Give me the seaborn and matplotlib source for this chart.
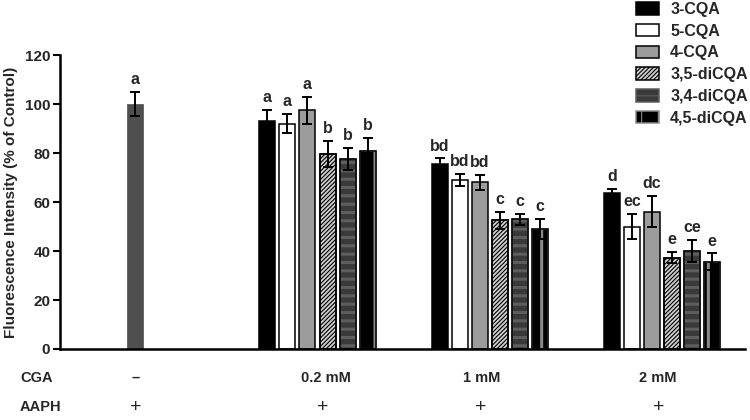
import matplotlib
matplotlib.use("Agg")
import matplotlib.pyplot as plt
import matplotlib.transforms as mtransforms
from matplotlib.patches import Rectangle
import numpy as np
import pandas as pd
import seaborn as sns

# ---------------- data ----------------
compounds = ["3-CQA", "5-CQA", "4-CQA", "3,5-diCQA", "3,4-diCQA", "4,5-diCQA"]
concentrations = ["0.2 mM", "1 mM", "2 mM"]

control_value = [100.0]
control_err = [5.0]
control_letter = ["a"]

mean_3CQA = [93.0, 75.5, 63.5]
mean_5CQA = [92.0, 69.0, 50.0]
mean_4CQA = [97.5, 68.0, 56.0]
mean_35diCQA = [79.5, 52.5, 37.3]
mean_34diCQA = [77.5, 53.0, 40.0]
mean_45diCQA = [81.0, 49.0, 35.6]

err_3CQA = [4.6, 2.3, 2.0]
err_5CQA = [3.8, 2.5, 5.0]
err_4CQA = [5.5, 3.0, 6.4]
err_35diCQA = [5.4, 3.4, 2.4]
err_34diCQA = [4.6, 2.3, 4.6]
err_45diCQA = [5.2, 4.0, 3.4]

letters_3CQA = ["a", "bd", "d"]
letters_5CQA = ["a", "bd", "ec"]
letters_4CQA = ["a", "bd", "dc"]
letters_35diCQA = ["b", "c", "e"]
letters_34diCQA = ["b", "c", "ce"]
letters_45diCQA = ["b", "c", "e"]

cga_labels = ["\u2013"] + concentrations
aaph_labels = ["+", "+", "+", "+"]

means = [mean_3CQA, mean_5CQA, mean_4CQA, mean_35diCQA, mean_34diCQA, mean_45diCQA]
errs = [err_3CQA, err_5CQA, err_4CQA, err_35diCQA, err_34diCQA, err_45diCQA]
letters = [letters_3CQA, letters_5CQA, letters_4CQA, letters_35diCQA, letters_34diCQA, letters_45diCQA]

# ---------------- layout / style ----------------
group_pos = [1.0, 2.0, 3.0]
control_pos = [-0.061]
cga_label_pos = [-0.055, 1.05, 1.955, 2.977]
aaph_label_pos = [-0.055, 1.03, 1.95, 2.98]

faces = ["#000000", "#ffffff", "#9c9c9c", "#cfcfcf", "#3a3a3a", "#000000"]
hatches = [None, None, None, "////////", "--", "|"]
hatch_cols = [None, None, None, "#000000", "#5e5e5e", "#8a8a8a"]
hatch_lws = [None, None, None, 0.8, 2.2, 2.2]

sns.set_theme(style="ticks")
plt.rcParams["font.family"] = ["Liberation Sans", "DejaVu Sans"]
plt.rcParams["font.weight"] = "bold"
plt.rcParams["hatch.linewidth"] = 0.8

fig = plt.figure(figsize=(7.5, 4.2), dpi=100)
ax = fig.add_axes([60 / 750, 1 - 349 / 420, 685 / 750, 294 / 420])

# control bar
df_ctrl = pd.DataFrame({"pos": control_pos, "val": control_value})
sns.barplot(data=df_ctrl, x="pos", y="val", native_scale=True, color="#4f4f4f",
            saturation=1, width=0.116, gap=0.2, errorbar=None, ax=ax,
            edgecolor="#4f4f4f", linewidth=0.5)
ctrl_container = ax.containers[-1]

# treated groups
rows = []
for c, m in zip(compounds, means):
    for p, v in zip(group_pos, m):
        rows.append({"pos": p, "val": v, "compound": c})
df = pd.DataFrame(rows)
sns.barplot(data=df, x="pos", y="val", hue="compound", hue_order=compounds,
            palette=dict(zip(compounds, faces)), native_scale=True,
            width=0.697, gap=0.2, saturation=1, errorbar=None,
            edgecolor="black", linewidth=1.1, legend=False, ax=ax)
containers = ax.containers[-6:]

err_kw = dict(fmt="none", ecolor="black", elinewidth=1.4, capsize=3.6, capthick=1.4, zorder=5)
txt_kw = dict(xytext=(0, 3.5), textcoords="offset points", ha="center", va="bottom",
              fontsize=11.5, fontweight="bold", zorder=6)

for p in ctrl_container.patches:
    xc = p.get_x() + p.get_width() / 2
    ax.errorbar([xc], [p.get_height()], yerr=[control_err[0]], **err_kw)
    ax.annotate(control_letter[0], (xc, p.get_height() + control_err[0]), **txt_kw)

for i, cont in enumerate(containers):
    for j, p in enumerate(cont.patches):
        if hatches[i]:
            p.set_hatch(hatches[i])
            ok = False
            if hasattr(p, "set_hatchcolor"):
                try:
                    p.set_hatchcolor(hatch_cols[i])
                    ok = True
                except Exception:
                    ok = False
            if hasattr(p, "set_hatch_linewidth"):
                try:
                    p.set_hatch_linewidth(hatch_lws[i])
                except Exception:
                    pass
            if not ok:
                p.set_edgecolor(hatch_cols[i])
                ax.add_patch(Rectangle((p.get_x(), p.get_y()), p.get_width(), p.get_height(),
                                       fill=False, edgecolor="black", linewidth=1.1, zorder=p.get_zorder() + 0.1))
        xc = p.get_x() + p.get_width() / 2
        top = p.get_height()
        ax.errorbar([xc], [top], yerr=[errs[i][j]], **err_kw)
        ax.annotate(letters[i][j], (xc, top + errs[i][j]), **txt_kw)

# axes styling
ax.set_xlim(-0.495, 3.482)
ax.set_ylim(0, 120)
ax.set_yticks(range(0, 121, 20))
ax.set_xticks([])
ax.set_xlabel("")
ax.set_ylabel("Fluorescence Intensity (% of Control)", fontsize=11, fontweight="bold", labelpad=5)
for lab in ax.get_yticklabels():
    lab.set_fontweight("bold")
    lab.set_fontsize(11)
ax.tick_params(axis="y", length=5, width=1.5, color="black", pad=2)
for s in ["left", "bottom"]:
    ax.spines[s].set_linewidth(1.8)
    ax.spines[s].set_color("black")
sns.despine(ax=ax)

# bottom labels
blend = mtransforms.blended_transform_factory(ax.transData, fig.transFigure)
fig.text(20 / 750, 1 - 378 / 420, "CGA", ha="left", va="center", fontsize=10.5, fontweight="bold")
fig.text(20 / 750, 1 - 407 / 420, "AAPH", ha="left", va="center", fontsize=10.5, fontweight="bold")
for x, c_lab in zip(cga_label_pos, cga_labels):
    ax.text(x, 1 - 378 / 420, c_lab, transform=blend, ha="center", va="center",
            fontsize=10.5, fontweight="bold")
for x, a_lab in zip(aaph_label_pos, aaph_labels):
    ax.text(x, 1 - 407 / 420, a_lab, transform=blend, ha="center", va="center",
            fontsize=14, fontweight="normal")

# legend
handles = [c.patches[0] for c in containers]
fig.legend(handles, compounds, loc="upper left", bbox_to_anchor=(636 / 750, 1 - 2 / 420),
           frameon=False, borderpad=0, borderaxespad=0, handlelength=1.44,
           handleheight=0.82, labelspacing=0.42, handletextpad=0.7,
           prop={"weight": "bold", "size": 11.5})

fig.savefig("out.png", dpi=100)
